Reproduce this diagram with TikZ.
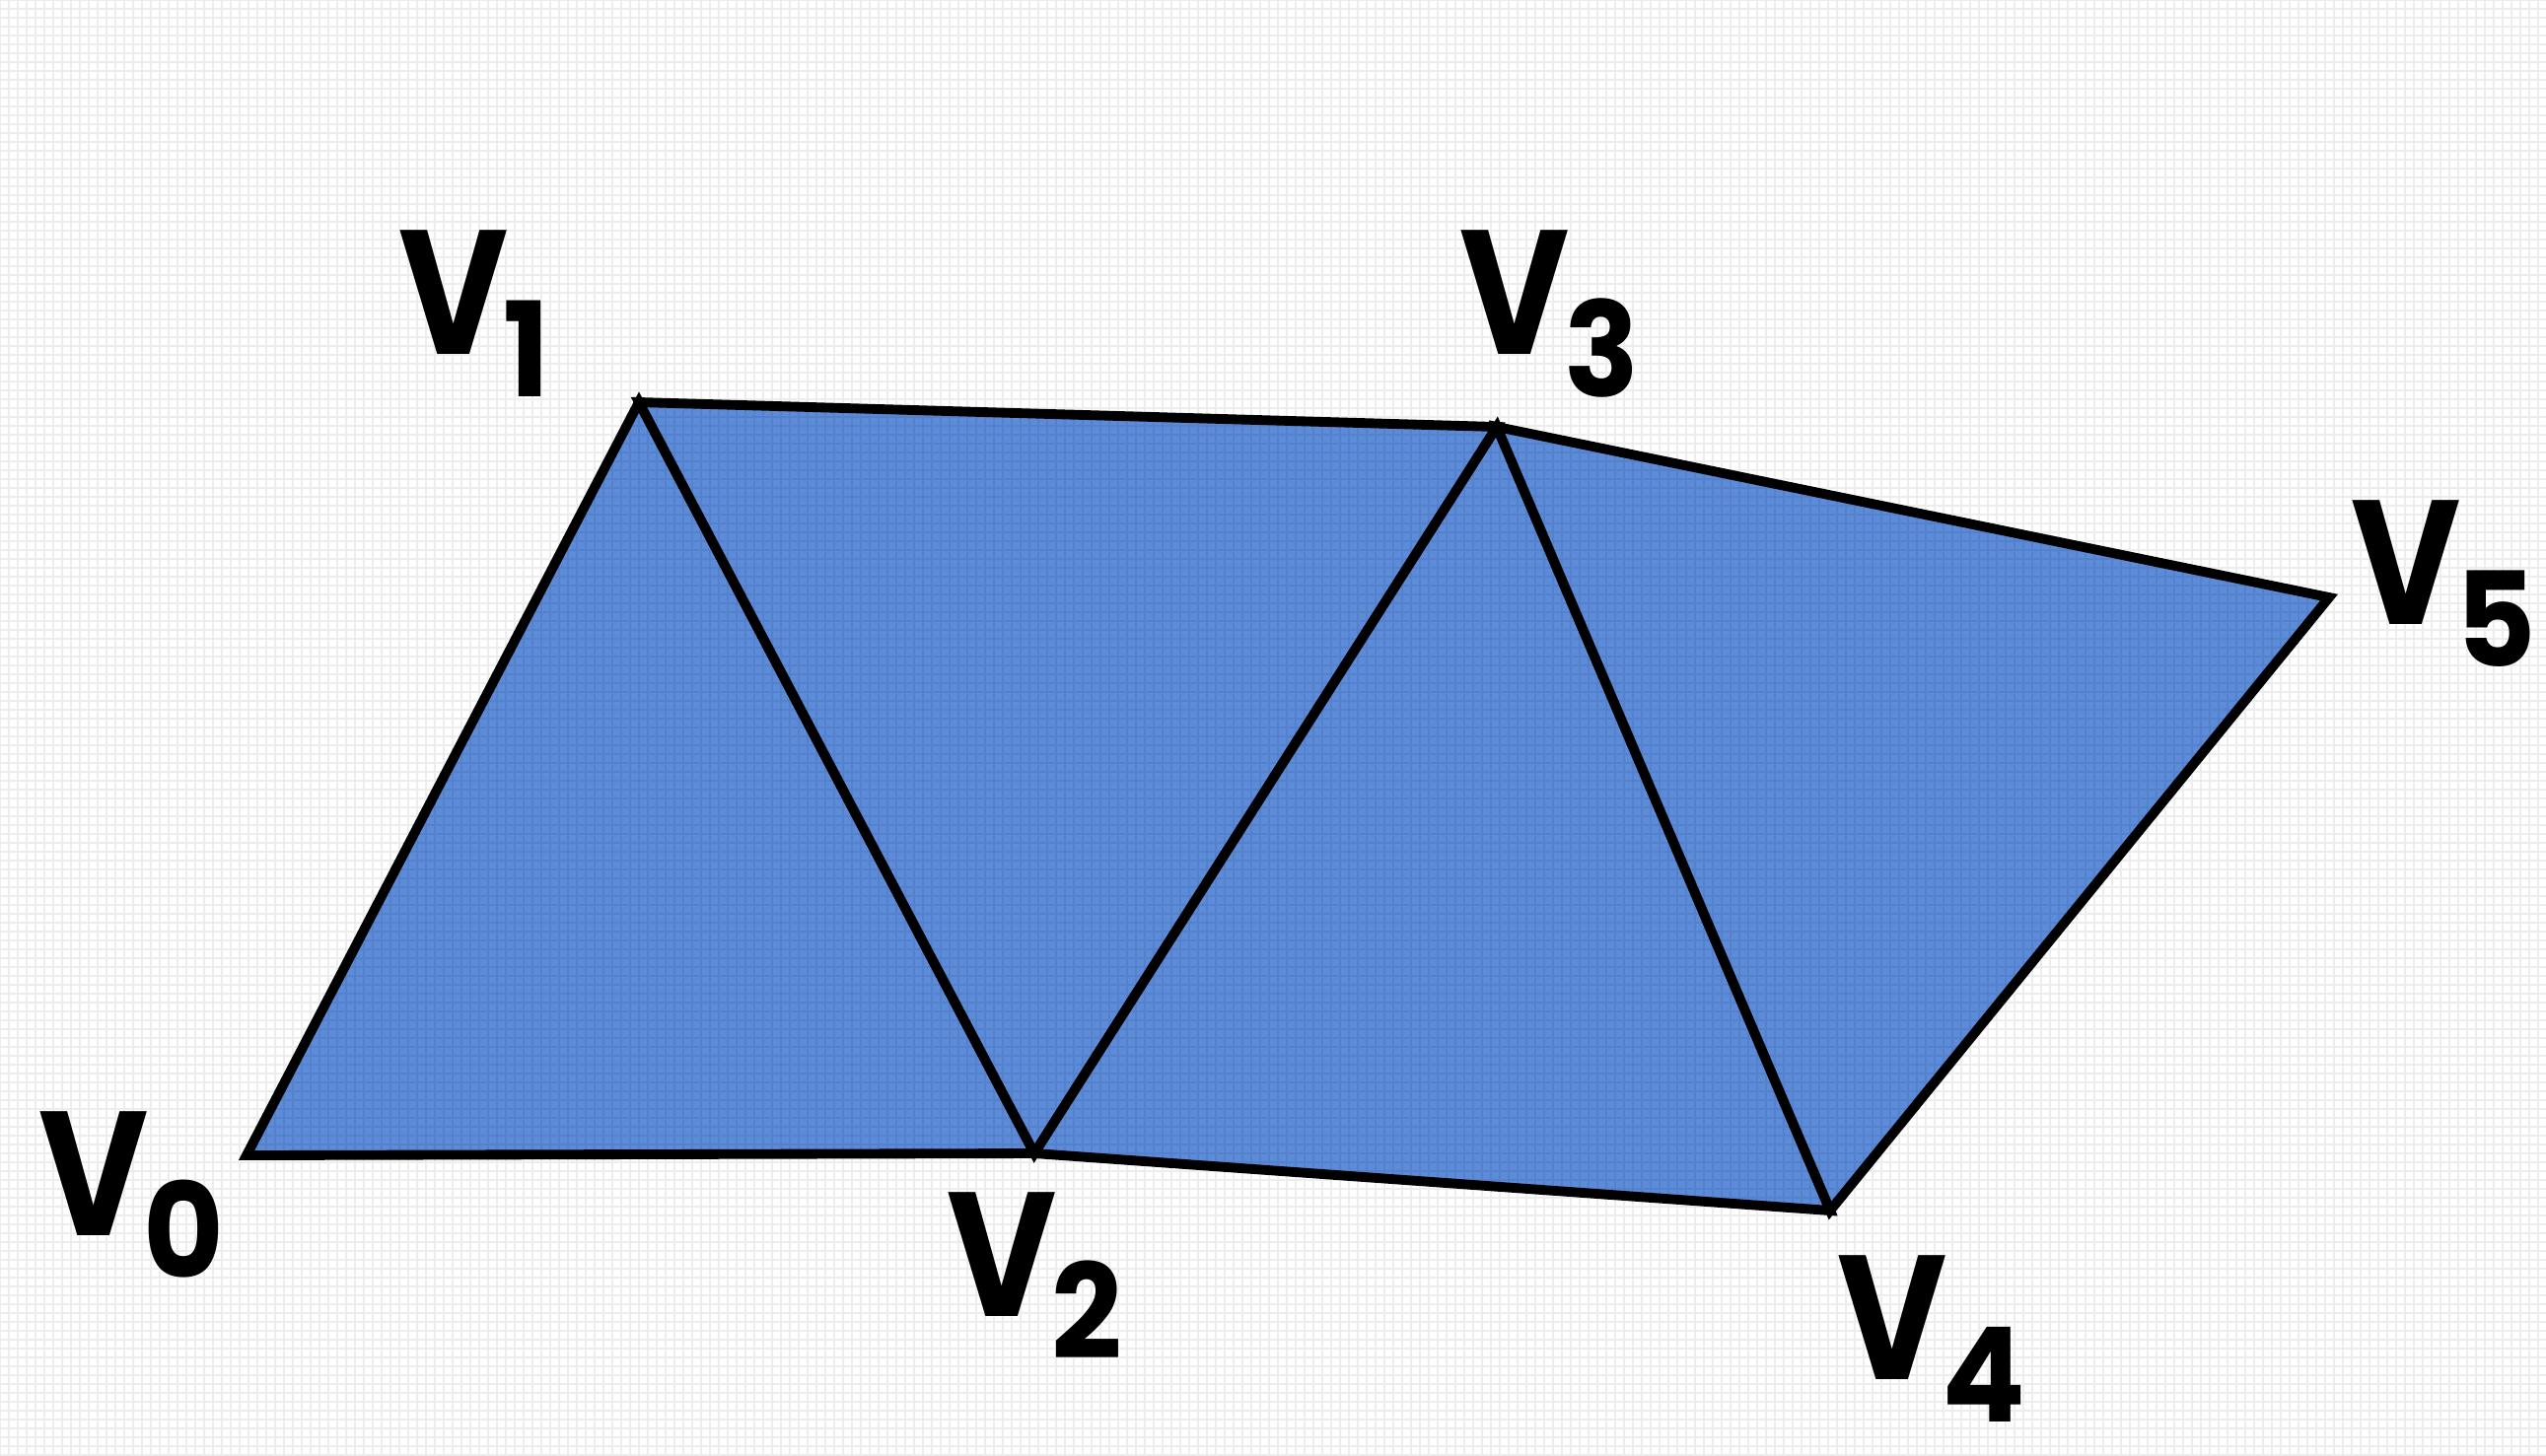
\documentclass[tikz,border=0pt]{standalone}
\usepackage{fontspec}
\newfontfamily\labfont{Poppins Bold}
\usetikzlibrary{positioning}
\definecolor{meshfill}{HTML}{5B8BD9}
\tikzset{tri/.style={draw=black,fill=meshfill,line width=2.8pt}, vlabel/.style={anchor=base west,inner sep=0pt,font=\fontsize{51}{51}\labfont}, gridline/.style={draw=black,opacity=0.07,line width=0.3pt}}
\newcommand{\vsub}[1]{\scalebox{0.85}[1]{V}\kern-0.03em\raisebox{-12.5pt}{\fontsize{38}{38}\selectfont\scalebox{0.94}[1]{#1}}}

\begin{document}
\begin{tikzpicture}[x=0.1mm,y=-0.1mm]
\useasboundingbox (0,0) rectangle (2582,1476);
\fill[white] (0,0) rectangle (2582,1476);
\coordinate (v0) at (250,1172);
\coordinate (v1) at (648,408);
\coordinate (v2) at (1049,1170);
\coordinate (v3) at (1518,433);
\coordinate (v4) at (1856,1228);
\coordinate (v5) at (2362,606);
\draw[tri] (v0)--(v1)--(v2)--cycle;
\draw[tri] (v1)--(v3)--(v2)--cycle;
\draw[tri] (v2)--(v3)--(v4)--cycle;
\draw[tri] (v3)--(v5)--(v4)--cycle;
\node[vlabel] (l0) at (39,1253) {\vsub{0}};
\node[vlabel] (l1) at (404,359) {\vsub{1}};
\node[vlabel] (l2) at (960,1335) {\vsub{2}};
\node[vlabel] (l3) at (1480,359) {\vsub{3}};
\node[vlabel] (l4) at (1863,1399) {\vsub{4}};
\node[vlabel] (l5) at (2384,633) {\vsub{5}};
\draw[gridline] (0,0) grid[step=0.9mm] (2582,1476);
\end{tikzpicture}
\end{document}
